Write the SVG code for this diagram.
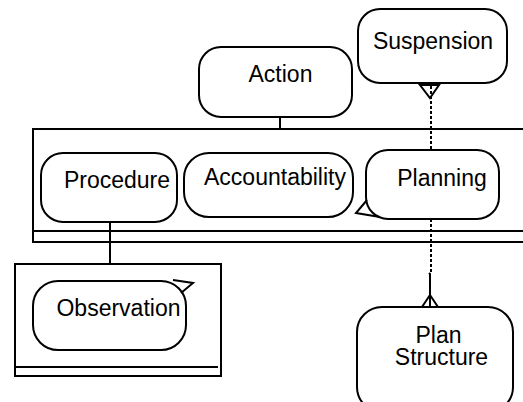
<svg xmlns="http://www.w3.org/2000/svg" width="523" height="402" viewBox="0 0 523 402">
<style>
.b{fill:#fff;stroke:#000;stroke-width:2}
.l{fill:none;stroke:#000;stroke-width:2}
.d{fill:none;stroke:#000;stroke-width:2;stroke-dasharray:3 2}
text{font-family:"Liberation Sans",Arial,sans-serif;font-size:23px;fill:#000;text-anchor:middle}
</style>
<rect width="523" height="402" fill="#fff"/>
<g id="container-main">
<rect class="b" x="33" y="129" width="500" height="113"/>
<line class="l" x1="33" y1="231" x2="533" y2="231"/>
</g>
<g id="container-observation">
<rect class="b" x="15" y="264" width="206" height="112"/>
<line class="l" x1="15" y1="367" x2="218" y2="367"/>
</g>
<g id="connectors">
<line class="l" x1="280" y1="117" x2="280" y2="129"/>
<line class="l" x1="110" y1="222" x2="110" y2="264"/>
<line class="d" x1="431" y1="86" x2="431" y2="150"/>
<line class="d" x1="431" y1="219" x2="431" y2="273"/>
<polyline class="l" points="429,273 430,274 430,307"/>
<polyline class="l" points="422,307 430,295 438,307"/>
<polygon class="l" points="420,85 439,85 430,98"/>
</g>
<g id="action">
<rect class="b" x="199" y="47" width="153" height="70" rx="22"/>
<text x="280.5" y="82">Action</text>
</g>
<g id="suspension">
<rect class="b" x="358" y="9" width="149" height="74" rx="22"/>
<text x="433" y="49">Suspension</text>
</g>
<g id="procedure">
<rect class="b" x="41" y="153" width="136" height="69" rx="22"/>
<text x="117" y="188">Procedure</text>
</g>
<g id="accountability">
<rect class="b" x="184" y="153" width="169" height="64" rx="25"/>
<text x="275" y="185">Accountability</text>
</g>
<g id="planning">
<rect class="b" x="366" y="150" width="133" height="69" rx="22"/>
<polyline class="l" points="367,200 356,213 380,217"/>
<text x="442" y="186">Planning</text>
</g>
<g id="observation">
<rect class="b" x="33" y="281" width="153" height="69" rx="25"/>
<polyline class="l" points="173,280 193,283 181,293"/>
<text x="118.5" y="316">Observation</text>
</g>
<g id="plan-structure">
<rect class="b" x="357" y="307" width="156" height="105" rx="25"/>
<text x="438.5" y="343">Plan</text>
<text x="441.5" y="365">Structure</text>
</g>
</svg>
